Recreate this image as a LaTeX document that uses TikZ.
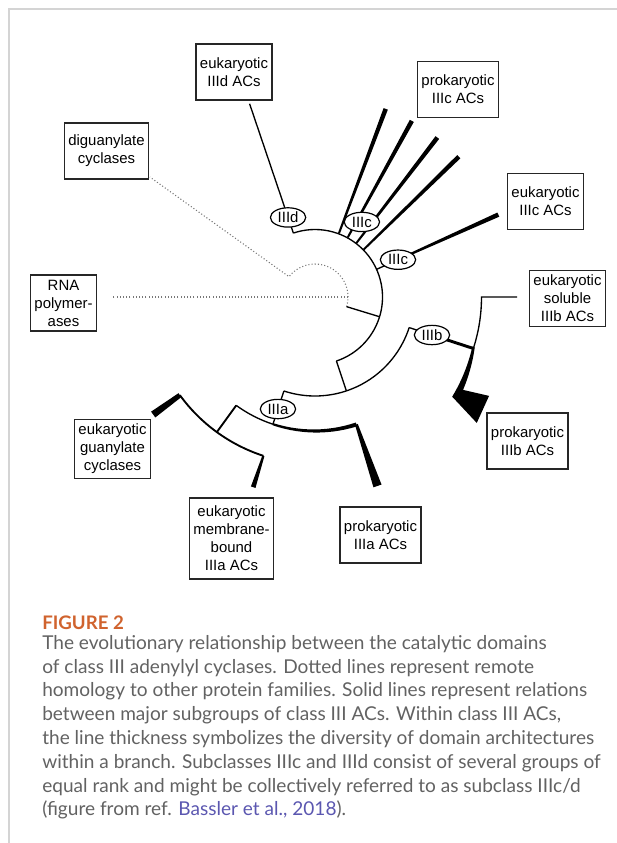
\documentclass[tikz,border=0pt]{standalone}
\usepackage{fontspec}
\setmainfont{Liberation Sans}
\newfontfamily\capfont{Lato}
\usetikzlibrary{shapes,calc}

\definecolor{framegray}{HTML}{D4D4D4}
\definecolor{dotgray}{HTML}{777777}
\definecolor{figorange}{HTML}{D0632E}
\definecolor{capgray}{HTML}{626262}
\definecolor{refviolet}{HTML}{5B57B0}

\tikzstyle{group}=[rectangle, draw=black!85, line width=0.85pt, fill=white,
        align=center, minimum height=42pt, inner xsep=3pt,
        font=\fontsize{11.2pt}{13.5pt}\selectfont]
\tikzstyle{subclass}=[ellipse, draw=black, line width=0.9pt, fill=white, inner sep=0pt,
        minimum width=26.5pt, minimum height=14.5pt, font=\fontsize{11.2pt}{12pt}\selectfont]
\tikzstyle{branch}=[line width=1pt]
\tikzstyle{remote}=[dotgray, line width=0.8pt, dash pattern=on 0.8pt off 1.6pt]

% tapered branch between two named points, half widths at both ends
\newcommand{\taper}[4]{\fill ($(#1)!#3!90:(#2)$) -- ($(#1)!#3!-90:(#2)$)
    -- ($(#2)!#4!90:(#1)$) -- ($(#2)!#4!-90:(#1)$) -- cycle;}

\begin{document}
\begin{tikzpicture}[x=0.75pt, y=0.75pt]
\useasboundingbox (0,0) rectangle (617,-843);

% page frame
\draw[framegray, line width=1.1pt] (617,-9) -- (9,-9) -- (9,-843);

% groups
\node (dBox) [group] at (234,-72) {eukaryotic\\IIId ACs};
\node (cProBox) [group] at (458,-89.5) {prokaryotic\\IIIc ACs};
\node (cEuBox) [group] at (545.5,-201.5) {eukaryotic\\IIIc ACs};
\node (bSolBox) [group] at (567.5,-298.5) {eukaryotic\\soluble\\IIIb ACs};
\node (bProBox) [group] at (527.5,-441) {prokaryotic\\IIIb ACs};
\node (aProBox) [group] at (380.5,-535) {prokaryotic\\IIIa ACs};
\node (aMemBox) [group, minimum height=60.75pt] at (231.5,-538.5) {eukaryotic\\membrane-\\bound\\IIIa ACs};
\node (gcBox) [group] at (112.5,-449) {eukaryotic\\guanylate\\cyclases};
\node (rnaBox) [group] at (63.5,-303) {RNA\\polymer-\\ases};
\node (dgcBox) [group] at (106.5,-151) {diguanylate\\cyclases};

\begin{scope}[shift={(315,-297)}]
% remote homology
\coordinate (rootA) at (-17:33);
\coordinate (rootE) at (0:33);
\coordinate (dgcTip) at (144:204);
\coordinate (rnaTip) at (180:202);
\draw[remote] (rootA) arc[start angle=-17, end angle=142, radius=33] -- (dgcTip);
\draw[remote] (rootE) -- (rnaTip);

% class III ACs
\coordinate (stemTop) at (-17:67.5);
\draw[branch] (rootA) -- (stemTop);
\coordinate (oneS) at (-71.5:67.5);
\coordinate (oneE) at (108.7:67.5);
\draw[branch] (oneS) arc[start angle=-71.5, end angle=108.7, radius=67.5];

% IIId
\coordinate (dTip) at (108.7:204);
\draw[branch] (oneE) -- (dTip);

% IIIc
\foreach \a [count=\i] in {69.4,61.2,52.5,44.3}{
  \coordinate (cFoot\i) at (\a:68);
  \coordinate (cTip\i) at (\a:201);
  \taper{cFoot\i}{cTip\i}{0.75pt}{1.7pt}
}
\coordinate (cLFoot) at (24.2:67.5);
\coordinate (cLMid) at (24.2:91);
\coordinate (cLTip) at (24.2:201);
\draw[branch] (cLFoot) -- (cLMid);
\taper{cLMid}{cLTip}{0.75pt}{1.7pt}

% IIIa / IIIb
\coordinate (twoTop) at (-71.5:99);
\draw[branch] (oneS) -- (twoTop);
\coordinate (twoS) at (-108.3:99);
\coordinate (twoE) at (-18:99);
\draw[branch] (twoS) arc[start angle=-108.3, end angle=-18, radius=99];

% IIIb
\coordinate (bMid) at (-18:123);
\coordinate (bFoot) at (-18:166.5);
\coordinate (bSolTip) at (0:202);
\draw[branch] (twoE) -- (bMid);
\draw[line width=2.2pt] (bMid) -- (bFoot);
\draw[branch] (bFoot) arc[start angle=-18, end angle=0, radius=166.5] -- (bSolTip);
\fill plot[domain=-17.5:-36, samples=12] (\x:{165+4.6*(-17.5-\x)/18.5})
   -- (-37.9:205) -- (-29.6:200.2) -- (-32.1:174.8)
   -- plot[domain=-32.1:-17.5, samples=12] (\x:{167.5+7.3*(\x+17.5)/(-14.6)}) -- cycle;

% IIIa
\coordinate (aMid) at (-108.3:118);
\coordinate (aFoot) at (-108.3:134);
\coordinate (threeS) at (-126:134);
\coordinate (threeE) at (-72:134);
\coordinate (aProTip) at (-71.7:199);
\draw[branch] (twoS) -- (aFoot);
\draw[branch] (aFoot) arc[start angle=-108.3, end angle=-126, radius=134];
\fill plot[domain=-108.3:-72, samples=15] (\x:{134-1.1-0.9*(\x+108.3)/36.3})
   -- plot[domain=-72:-108.3, samples=15] (\x:{134+1.1+0.9*(\x+108.3)/36.3}) -- cycle;
\taper{threeE}{aProTip}{1.1pt}{3.2pt}

\coordinate (fourMid) at (-126:167);
\coordinate (fourS) at (-144:167);
\coordinate (fourE) at (-108:167);
\coordinate (gcTip) at (-144:200);
\coordinate (memTip) at (-108:200);
\draw[line width=1.4pt] (threeS) -- (fourMid);
\draw[line width=1.4pt] (fourS) arc[start angle=-144, end angle=-108, radius=167];
\taper{fourS}{gcTip}{1.8pt}{2.7pt}
\taper{fourE}{memTip}{0.8pt}{1.8pt}

% subclass labels
\node (IIId) [subclass] at (108.7:84) {IIId};
\node (IIIcU) [subclass] at (58:88.5) {IIIc};
\node (IIIcL) [subclass] at (cLMid) {IIIc};
\node (IIIb) [subclass] at (bMid) {IIIb};
\node (IIIa) [subclass] at (aMid) {IIIa};
\end{scope}

% caption
\node (figLabel) [anchor=west, text=figorange, inner sep=0pt,
    font=\capfont\bfseries\fontsize{14pt}{16pt}\selectfont] at (42,-623) {FIGURE 2};
\node (caption) [anchor=north west, text=capgray, align=left, inner sep=0pt,
    font=\capfont\fontsize{14.3pt}{17.85pt}\selectfont] at (42,-635)
    {The evolutionary relationship between the catalytic domains\\
     of class III adenylyl cyclases. Dotted lines represent remote\\
     homology to other protein families. Solid lines represent relations\\
     between major subgroups of class III ACs. Within class III ACs,\\
     the line thickness symbolizes the diversity of domain architectures\\
     within a branch. Subclasses IIIc and IIId consist of several groups of\\
     equal rank and might be collectively referred to as subclass IIIc/d\\
     (figure from ref. \textcolor{refviolet}{Bassler et al., 2018}).};
\end{tikzpicture}
\end{document}
